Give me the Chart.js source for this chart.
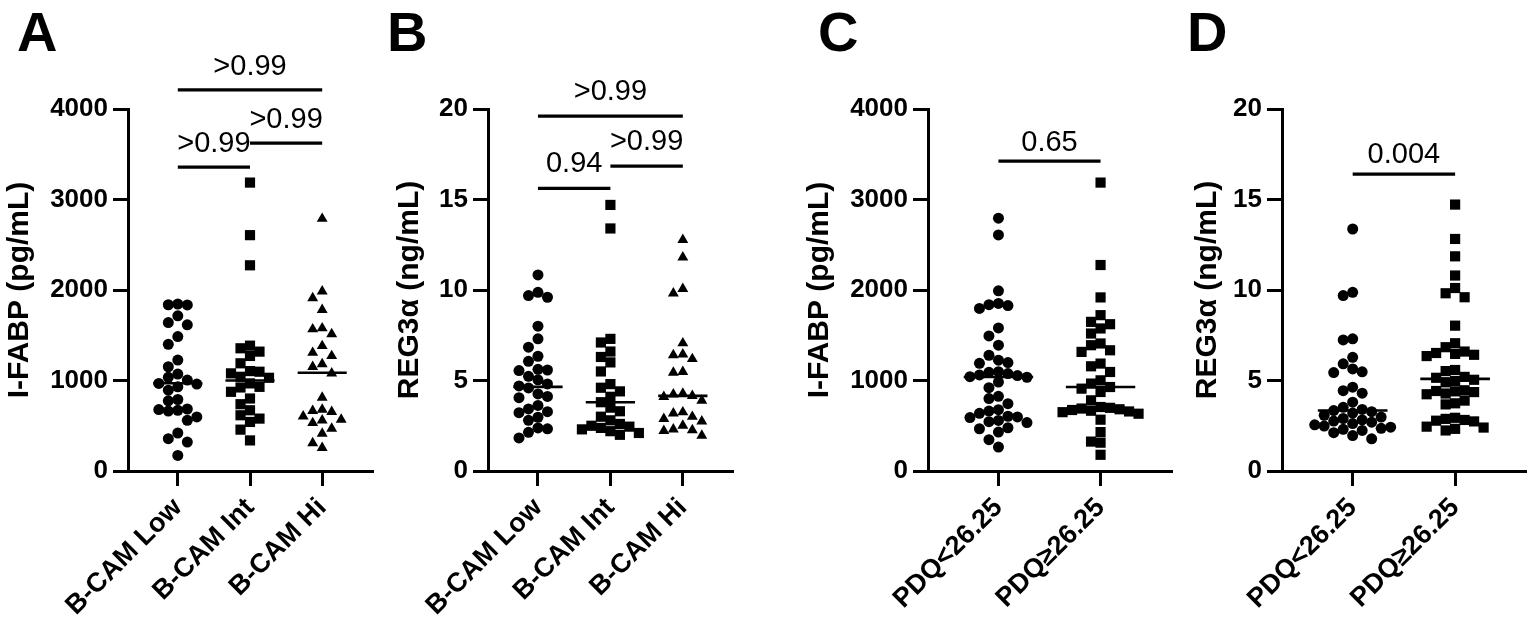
<!DOCTYPE html>
<html><head><meta charset="utf-8">
<script src="https://cdn.jsdelivr.net/npm/chart.js@4.4.1/dist/chart.umd.min.js"></script>
<style>
html,body{margin:0;padding:0;background:#fff;}
#wrap{position:relative;width:1533px;height:626px;overflow:hidden;background:#fff;}
#wrap canvas{position:absolute;top:0;}
</style></head><body>
<div id="wrap">
<canvas id="cA" width="380" height="626" style="left:0px"></canvas>
<canvas id="cB" width="360" height="626" style="left:380px"></canvas>
<canvas id="cC" width="440" height="626" style="left:740px"></canvas>
<canvas id="cD" width="353" height="626" style="left:1180px"></canvas>
</div>
<script>
// ---------- DATA ----------
const groupsBCAM = ['B-CAM Low', 'B-CAM Int', 'B-CAM Hi'];
const groupsPDQ = ['PDQ<26.25', 'PDQ\u226526.25'];

// Panel A: I-FABP (pg/mL) by B-CAM group
const ifabpBcamLow = [1845,1837,1835,1715,1640,1615,1485,1400,1226,1152,1071,1035,1005,968,960,930,893,790,775,685,679,670,662,597,560,420,357,320,172];
const ifabpBcamInt = [3187,2606,2273,1385,1356,1319,1271,1190,1104,1097,1079,1041,1030,968,930,923,875,801,738,671,616,579,542,457,338];
const ifabpBcamHi  = [2788,1985,1911,1781,1578,1567,1512,1382,1307,1271,1182,1152,1079,812,679,664,653,605,568,560,531,468,413,309,257];
const ifabpBcamMedians = [970, 1000, 1085];

// Panel B: REG3α (ng/mL) by B-CAM group
const reg3BcamLow = [10.83,9.87,9.69,9.60,8.0,7.30,6.84,6.34,6.06,5.62,5.58,5.55,5.23,5.04,4.81,4.70,4.59,4.26,4.12,4.05,3.62,3.43,3.28,3.22,2.97,2.80,2.38,2.33,2.14,1.83];
const reg3BcamInt = [14.7,13.4,7.3,7.1,6.6,6.3,6.0,5.5,4.8,4.6,4.4,4.1,3.8,3.5,3.3,3.0,2.8,2.6,2.5,2.45,2.38,2.3,2.2,2.1,2.0];
const reg3BcamHi  = [12.77,11.81,10.06,9.82,7.06,6.45,6.40,6.19,5.48,5.44,4.28,4.24,4.15,4.10,3.89,3.25,3.19,3.0,2.88,2.75,2.51,2.30,2.26,2.22,1.96];
const reg3BcamMedians = [4.65, 3.8, 4.15];

// Panel C: I-FABP (pg/mL) by PDQ group
const ifabpPdqLow  = [2793,2608,1991,1852,1838,1828,1796,1581,1493,1390,1279,1224,1198,1190,1098,1090,1076,1062,1054,1042,1036,983,921,825,800,744,678,662,637,605,598,590,559,545,535,478,467,430,346,264];
const ifabpPdqHigh = [3187,2276,1918,1722,1648,1622,1575,1519,1409,1390,1334,1316,1187,1157,1094,1002,966,928,910,873,781,707,698,690,682,674,666,658,650,633,567,430,325,313,179];
const ifabpPdqMedians = [1039, 928];

// Panel D: REG3α (ng/mL) by PDQ group
const reg3PdqLow  = [13.37,9.87,9.69,7.30,7.24,6.28,5.92,5.64,5.48,5.44,4.63,4.44,4.30,3.80,3.52,3.40,3.34,3.28,3.20,3.08,2.98,2.90,2.82,2.76,2.70,2.62,2.55,2.48,2.42,2.36,2.30,2.24,2.12,1.96,1.78];
const reg3PdqHigh = [14.72,12.82,11.86,10.80,10.11,9.82,9.60,8.03,7.06,6.84,6.60,6.52,6.47,6.42,6.35,5.58,5.52,5.20,5.15,5.04,4.97,4.90,4.46,4.42,4.40,4.36,4.28,4.24,3.89,3.74,3.68,2.94,2.88,2.82,2.78,2.74,2.45,2.40,2.33,2.24];
const reg3PdqMedians = [3.34, 5.09];

// Comparisons: group pairs (1-based), bar level (axis units), p-value text
const pairsA = [[1,3],[1,2],[2,3]];
const levelsA = [4211, 3357, 3623];
const pvalsA = ['>0.99','>0.99','>0.99'];
const pairsB = [[1,3],[1,2],[2,3]];
const levelsB = [19.61, 15.62, 16.84];
const pvalsB = ['>0.99','0.94','>0.99'];
const pairsC = [[1,2]];
const levelsC = [3424];
const pvalsC = ['0.65'];
const pairsD = [[1,2]];
const levelsD = [16.4];
const pvalsD = ['0.004'];

const yTicksIfabp = [0,1000,2000,3000,4000];
const yTicksReg3 = [0,5,10,15,20];

// ---------- RENDERING ----------
Chart.defaults.font.family = '"Liberation Sans", Arial, sans-serif';
Chart.defaults.color = '#000';
const FONT = '"Liberation Sans", Arial, sans-serif';
const PLOT_TOP = 109, PLOT_BOTTOM = 471, CANVAS_H = 626;
const EDGE = 0.69; // half-gap beyond first/last group, in group units

// Beeswarm layout: places each value in the nearest free column around its group centre
function swarm(values, center, pxPerX, pxPerY) {
  const colStep = 9.5, minGap = 10.2;
  const order = [0,-1,1,-2,2,-3,3,-4,4,-5,5,-6,6];
  const placed = [];
  return values.map(v => {
    const py = v * pxPerY;
    for (const c of order) {
      if (!placed.some(p => p.c === c && Math.abs(p.py - py) < minGap)) {
        placed.push({c, py});
        return {x: center + c * colStep / pxPerX, y: v};
      }
    }
    return {x: center, y: v};
  });
}

const annotPlugin = {
  id: 'annot',
  afterDraw(chart, args, o) {
    const {ctx} = chart, xs = chart.scales.x, ys = chart.scales.y;
    ctx.save();
    ctx.fillStyle = '#000'; ctx.strokeStyle = '#000';
    o.pairs.forEach((pr, i) => {
      const x0 = xs.getPixelForValue(pr[0]), x1 = xs.getPixelForValue(pr[1]);
      const y = ys.getPixelForValue(o.levels[i]);
      ctx.lineWidth = 3.2;
      ctx.beginPath(); ctx.moveTo(x0, y); ctx.lineTo(x1, y); ctx.stroke();
      ctx.font = '29px ' + FONT; ctx.textAlign = 'center'; ctx.textBaseline = 'alphabetic';
      ctx.fillText(o.pvals[i], (x0 + x1) / 2, y - o.gap);
    });
    ctx.font = 'bold 56px ' + FONT; ctx.textAlign = 'left'; ctx.textBaseline = 'alphabetic';
    ctx.fillText(o.letter, o.letterX, 51);
    ctx.restore();
  }
};

function makePanel(cfg) {
  const canvas = document.getElementById(cfg.id);
  const W = canvas.width;
  const n = cfg.groups.length;
  const xMin = 1 - EDGE, xMax = n + EDGE;
  const plotW = cfg.plotRight - cfg.plotLeft;
  const pxPerX = plotW / (xMax - xMin);
  const pxPerY = (PLOT_BOTTOM - PLOT_TOP) / cfg.yMax;
  const styles = cfg.styles;
  const datasets = [];
  cfg.series.forEach((vals, i) => {
    datasets.push({
      data: swarm(vals, i + 1, pxPerX, pxPerY),
      pointStyle: styles[i], pointRadius: cfg.radii[i], pointHoverRadius: cfg.radii[i],
      backgroundColor: '#000', borderColor: '#000', borderWidth: 0, showLine: false, clip: false
    });
  });
  cfg.medians.forEach((m, i) => {
    datasets.push({
      type: 'line', data: [{x: i + 1 - 0.34, y: m}, {x: i + 1 + 0.34, y: m}],
      borderColor: '#000', borderWidth: 2.6, pointRadius: 0, showLine: true, clip: false, fill: false
    });
  });
  return new Chart(canvas, {
    type: 'scatter',
    data: {datasets},
    plugins: [annotPlugin],
    options: {
      responsive: false, animation: false, events: [],
      layout: {padding: {top: PLOT_TOP, left: 0, right: W - cfg.plotRight, bottom: 0}},
      plugins: {
        legend: {display: false}, tooltip: {enabled: false},
        annot: {pairs: cfg.pairs, levels: cfg.levels, pvals: cfg.pvals, gap: cfg.gap, letter: cfg.letter, letterX: cfg.letterX}
      },
      scales: {
        x: {
          type: 'linear', min: xMin, max: xMax,
          afterBuildTicks: s => { s.ticks = cfg.groups.map((g, i) => ({value: i + 1})); },
          ticks: {autoSkip: false, minRotation: 45, maxRotation: 45, color: '#000',
                  font: {size: 27, weight: 'bold'}, padding: 6,
                  callback: v => cfg.groups[Math.round(v) - 1]},
          grid: {drawOnChartArea: false, drawTicks: true, tickLength: 15, lineWidth: 3, color: '#000'},
          border: {display: true, width: 3, color: '#000'},
          afterFit: s => { s.height = CANVAS_H - PLOT_BOTTOM; }
        },
        y: {
          min: 0, max: cfg.yMax,
          afterBuildTicks: s => { s.ticks = cfg.yTicks.map(v => ({value: v})); },
          ticks: {color: '#000', font: {size: 26, weight: 'bold'}, padding: 5,
                  callback: v => String(v)},
          grid: {drawOnChartArea: false, drawTicks: true, tickLength: 15, lineWidth: 3, color: '#000'},
          border: {display: true, width: 3, color: '#000'},
          title: {display: true, text: cfg.yTitle, color: '#000', font: {size: 30, weight: 'bold'},
                  padding: {top: cfg.titlePad, bottom: 0}},
          afterFit: s => { s.width = cfg.plotLeft; }
        }
      }
    }
  });
}

makePanel({id: 'cA', groups: groupsBCAM, series: [ifabpBcamLow, ifabpBcamInt, ifabpBcamHi],
  medians: ifabpBcamMedians, styles: ['circle','rect','triangle'], radii: [5.5, 7.2, 6.3],
  yMax: 4000, yTicks: yTicksIfabp, yTitle: 'I-FABP (pg/mL)', titlePad: 2,
  plotLeft: 128, plotRight: 372, pairs: pairsA, levels: levelsA, pvals: pvalsA, gap: 15, letter: 'A', letterX: 17});
makePanel({id: 'cB', groups: groupsBCAM, series: [reg3BcamLow, reg3BcamInt, reg3BcamHi],
  medians: reg3BcamMedians, styles: ['circle','rect','triangle'], radii: [5.5, 7.2, 6.3],
  yMax: 20, yTicks: yTicksReg3, yTitle: 'REG3\u03b1 (ng/mL)', titlePad: 12,
  plotLeft: 108, plotRight: 353, pairs: pairsB, levels: levelsB, pvals: pvalsB, gap: 16, letter: 'B', letterX: 7});
makePanel({id: 'cC', groups: groupsPDQ, series: [ifabpPdqLow, ifabpPdqHigh],
  medians: ifabpPdqMedians, styles: ['circle','rect'], radii: [5.5, 7.2],
  yMax: 4000, yTicks: yTicksIfabp, yTitle: 'I-FABP (pg/mL)', titlePad: 62,
  plotLeft: 188, plotRight: 431, pairs: pairsC, levels: levelsC, pvals: pvalsC, gap: 10, letter: 'C', letterX: 78});
makePanel({id: 'cD', groups: groupsPDQ, series: [reg3PdqLow, reg3PdqHigh],
  medians: reg3PdqMedians, styles: ['circle','rect'], radii: [5.5, 7.2],
  yMax: 20, yTicks: yTicksReg3, yTitle: 'REG3\u03b1 (ng/mL)', titlePad: 10,
  plotLeft: 102, plotRight: 346, pairs: pairsD, levels: levelsD, pvals: pvalsD, gap: 11, letter: 'D', letterX: 7});
</script>
</body></html>
